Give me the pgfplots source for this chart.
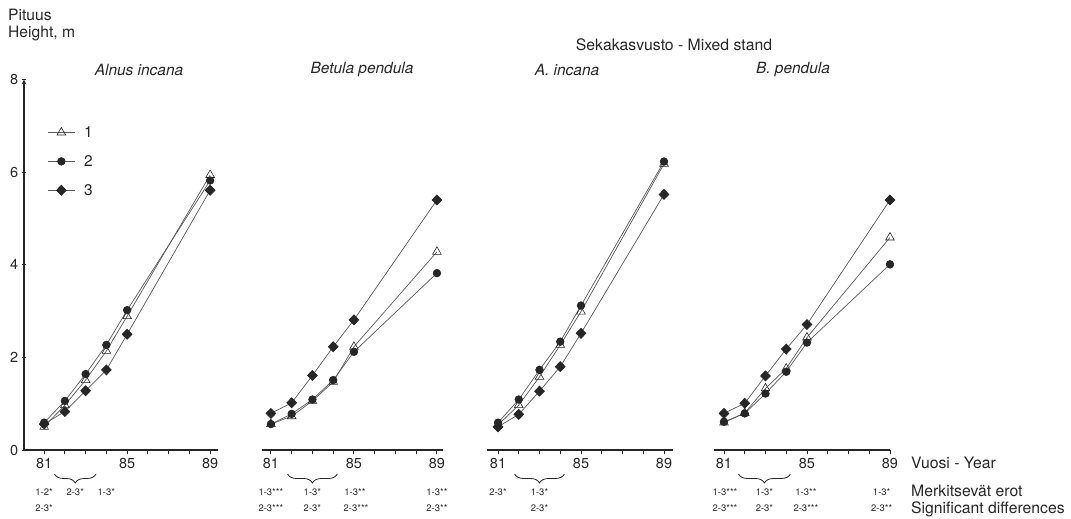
\documentclass[border=0pt]{standalone}
\usepackage{pgfplots}
\usepackage{pgfplotstable}
\pgfplotsset{compat=1.18}
\usepackage{fontspec}
\setmainfont{TeX Gyre Heros}
\usetikzlibrary{decorations.pathreplacing}

% Mean height (m) by year for treatments 1, 2 and 3
\pgfplotstableread{
year  t1    t2    t3
81    0.50  0.59  0.56
82    0.97  1.06  0.83
83    1.51  1.64  1.28
84    2.14  2.27  1.73
85    2.89  3.02  2.50
89    5.94  5.82  5.61
}\alnus
\pgfplotstableread{
year  t1    t2    t3
81    0.56  0.56  0.79
82    0.73  0.78  1.02
83    1.06  1.09  1.61
84    1.47  1.51  2.23
85    2.23  2.12  2.81
89    4.28  3.82  5.40
}\betula
\pgfplotstableread{
year  t1    t2    t3
81    0.54  0.59  0.50
82    0.97  1.09  0.77
83    1.58  1.73  1.27
84    2.27  2.34  1.80
85    2.99  3.12  2.52
89    6.18  6.23  5.52
}\mixalnus
\pgfplotstableread{
year  t1    t2    t3
81    0.59  0.61  0.79
82    0.80  0.79  1.01
83    1.33  1.22  1.60
84    1.76  1.69  2.18
85    2.43  2.32  2.71
89    4.59  4.01  5.40
}\mixbetula

\definecolor{ink}{gray}{0.15}
\definecolor{linegray}{gray}{0.35}

\pgfplotsset{
  panel/.style={
    x=20.75bp, y=46.3bp,
    ymin=0, ymax=8,
    anchor=south west,
    axis x line=bottom,
    axis line style={-, draw=ink, line width=1.1bp},
    tick style={draw=ink, line width=0.9bp},
    tick align=outside,
    major tick length=4.5bp,
    xtick={81,...,89},
    xticklabels={81,,,,85,,,,89},
    ytick={0,2,4,6,8},
    clip=false,
    /pgf/number format/assume math mode=true,
    every tick label/.append style={font=\fontsize{14.5}{14.5}\selectfont, text=ink},
  },
  s1/.style={draw=linegray, line width=0.7bp, mark=triangle, mark size=5bp,
    mark options={fill=white, draw=ink, line width=0.6bp}},
  s2/.style={draw=linegray, line width=0.7bp, mark=*, mark size=3.8bp,
    mark options={fill=ink, draw=ink}},
  s3/.style={draw=linegray, line width=0.7bp, mark=diamond*, mark size=5bp,
    mark options={fill=ink, draw=ink, xscale=1.3}},
}

% significance notes below the year axis
\newcommand{\sig}[3]{\node[font=\fontsize{9.5}{9.5}\selectfont, text=ink, inner sep=0pt]
  at ([yshift=#2]axis cs:#1,0) {#3};}
\newcommand{\rowa}{-42bp}
\newcommand{\rowb}{-58bp}
\newcommand{\brc}[2]{\draw[decorate, decoration={brace, mirror, amplitude=9bp}, ink, line width=0.8bp]
  ([yshift=-24bp]axis cs:#1,0) -- ([yshift=-24bp]axis cs:#2,0);}

\begin{document}
\begin{tikzpicture}
\useasboundingbox (0,0) rectangle (1071bp,519bp);

% Alnus incana
\begin{axis}[panel, at={(24bp,69bp)}, xmin=80.03, xmax=89.39,
  axis y line=left,
  legend style={at={(0.12,0.88)}, anchor=north west, draw=none, fill=none,
    inner sep=0pt, row sep=12.5bp, font=\fontsize{15.5}{15.5}\selectfont, text=ink,
    /tikz/every odd column/.append style={column sep=7bp}},
  legend cell align=left,
  legend image code/.code={\draw[mark repeat=2, mark phase=2]
    plot coordinates {(0bp,0bp) (13.5bp,0bp) (27bp,0bp)};},
]
\addplot[s1] table[x=year, y=t1] {\alnus};
\addplot[s2] table[x=year, y=t2] {\alnus};
\addplot[s3] table[x=year, y=t3] {\alnus};
\legend{1,2,3}
\sig{81}{\rowa}{1-2*}
\sig{81}{\rowb}{2-3*}
\brc{81.5}{83.5}
\sig{82.5}{\rowa}{2-3*}
\sig{84}{\rowa}{1-3*}
\end{axis}

% Betula pendula
\begin{axis}[panel, at={(262bp,69bp)}, xmin=80.57, xmax=89.3, axis y line=none]
\addplot[s1] table[x=year, y=t1] {\betula};
\addplot[s2] table[x=year, y=t2] {\betula};
\addplot[s3] table[x=year, y=t3] {\betula};
\sig{81}{\rowa}{1-3***}
\sig{81}{\rowb}{2-3***}
\brc{81.8}{84.2}
\sig{83}{\rowa}{1-3*}
\sig{83}{\rowb}{2-3*}
\sig{85.05}{\rowa}{1-3**}
\sig{85.1}{\rowb}{2-3***}
\sig{89}{\rowa}{1-3**}
\sig{89}{\rowb}{2-3**}
\end{axis}

% Mixed stand, A. incana
\begin{axis}[panel, at={(487bp,69bp)}, xmin=80.47, xmax=89.43, axis y line=none]
\addplot[s1] table[x=year, y=t1] {\mixalnus};
\addplot[s2] table[x=year, y=t2] {\mixalnus};
\addplot[s3] table[x=year, y=t3] {\mixalnus};
\sig{81}{\rowa}{2-3*}
\brc{81.8}{84.2}
\sig{83}{\rowa}{1-3*}
\sig{83}{\rowb}{2-3*}
\end{axis}

% Mixed stand, B. pendula
\begin{axis}[panel, at={(714bp,69bp)}, xmin=80.52, xmax=89.02, axis y line=none]
\addplot[s1] table[x=year, y=t1] {\mixbetula};
\addplot[s2] table[x=year, y=t2] {\mixbetula};
\addplot[s3] table[x=year, y=t3] {\mixbetula};
\sig{81.05}{\rowa}{1-3***}
\sig{81.05}{\rowb}{2-3***}
\brc{81.7}{84.2}
\sig{82.95}{\rowa}{1-3*}
\sig{82.95}{\rowb}{2-3*}
\sig{84.95}{\rowa}{1-3**}
\sig{84.95}{\rowb}{2-3***}
\sig{88.6}{\rowa}{1-3*}
\sig{88.6}{\rowb}{2-3**}
\end{axis}

% headings and axis descriptions
\begin{scope}[every node/.style={text=ink, inner sep=0pt}]
\node[anchor=west, font=\fontsize{15.7}{15.7}\selectfont] at (8bp,504bp) {Pituus};
\node[anchor=west, font=\fontsize{15.7}{15.7}\selectfont] at (8bp,485bp) {Height, m};
\node[font=\fontsize{15.5}{15.5}\selectfont\itshape] at (139bp,449bp) {Alnus incana};
\node[font=\fontsize{15.5}{15.5}\selectfont\itshape] at (362bp,449bp) {Betula pendula};
\node[font=\fontsize{15.8}{15.8}\selectfont] at (674bp,474bp) {Sekakasvusto - Mixed stand};
\node[font=\fontsize{15.5}{15.5}\selectfont\itshape] at (567bp,449bp) {A. incana};
\node[font=\fontsize{15.5}{15.5}\selectfont\itshape] at (793bp,449bp) {B. pendula};
\node[anchor=west, font=\fontsize{15.8}{15.8}\selectfont] at (911bp,56bp) {Vuosi - Year};
\node[anchor=west, font=\fontsize{15.8}{15.8}\selectfont] at (911bp,28bp) {Merkitsevät erot};
\node[anchor=west, font=\fontsize{15.8}{15.8}\selectfont] at (911bp,10bp) {Significant differences};
\end{scope}
\end{tikzpicture}
\end{document}
